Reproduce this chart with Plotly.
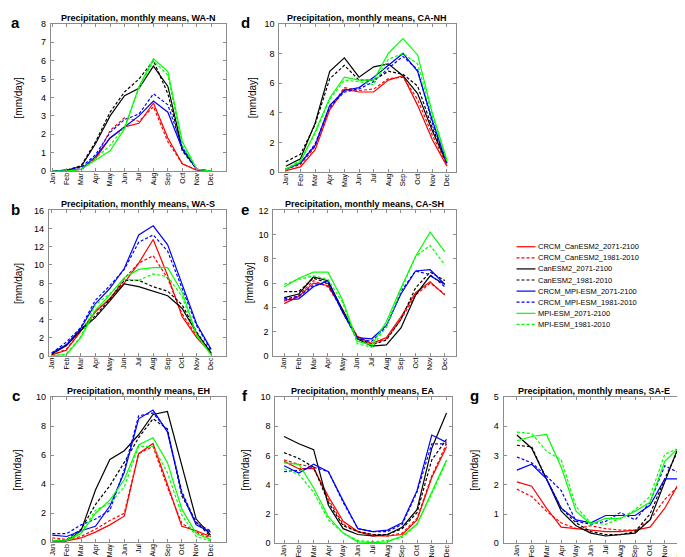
import plotly.graph_objects as go

W, H = 685, 557

MONTHS = ["Jan", "Feb", "Mar", "Apr", "May", "Jun", "Jul", "Aug", "Sep", "Oct", "Nov", "Dec"]

SERIES = ["CRCM_CanESM2_2071-2100", "CRCM_CanESM2_1981-2010",
          "CanESM2_2071-2100", "CanESM2_1981-2010",
          "CRCM_MPI-ESM_2071-2100", "CRCM_MPI-ESM_1981-2010",
          "MPI-ESM_2071-2100", "MPI-ESM_1981-2010"]
COLORS = ["#ff0000", "#ff0000", "#000000", "#000000",
          "#0000ff", "#0000ff", "#00ff00", "#00ff00"]
DASHES = ["solid", "3px,2px", "solid", "3px,2px",
          "solid", "3px,2px", "solid", "3px,2px"]

# values in SERIES order, Jan..Dec
WA_N = [
    [0, 0, 0.1, 0.7, 1.8, 2.4, 2.6, 3.7, 1.8, 0.4, 0.05, 0],
    [0, 0, 0.1, 0.7, 2.2, 2.9, 2.7, 3.5, 1.6, 0.4, 0.05, 0],
    [0, 0.05, 0.25, 1.5, 3.0, 4.1, 4.5, 5.7, 4.6, 1.2, 0.1, 0],
    [0, 0.05, 0.3, 1.6, 3.2, 4.3, 5.0, 6.0, 4.2, 1.1, 0.1, 0],
    [0, 0.05, 0.1, 0.8, 1.8, 2.4, 3.0, 3.8, 3.2, 1.2, 0.1, 0],
    [0, 0.05, 0.2, 0.9, 2.1, 2.8, 3.1, 4.2, 3.6, 1.3, 0.1, 0],
    [0, 0, 0.1, 0.6, 1.1, 2.3, 4.6, 6.1, 5.4, 1.6, 0.1, 0],
    [0, 0, 0.1, 0.7, 1.4, 2.4, 4.5, 6.0, 5.2, 1.4, 0.1, 0],
]
CA_NH = [
    [0.1, 0.35, 1.5, 4.2, 5.6, 5.4, 5.4, 6.2, 6.5, 4.5, 2.2, 0.4],
    [0.2, 0.5, 1.7, 4.3, 5.7, 5.5, 5.6, 6.3, 6.4, 4.9, 2.5, 0.5],
    [0.4, 0.9, 3.3, 6.8, 7.7, 6.4, 7.1, 7.3, 6.5, 5.3, 2.8, 0.6],
    [0.7, 1.2, 3.2, 6.3, 7.2, 6.2, 6.2, 6.8, 6.6, 5.8, 3.0, 0.7],
    [0.2, 0.6, 1.8, 4.5, 5.5, 5.7, 6.4, 7.2, 8.0, 6.8, 3.5, 0.6],
    [0.2, 0.6, 1.9, 4.4, 5.4, 5.6, 6.1, 7.0, 7.8, 6.9, 3.3, 0.6],
    [0.2, 0.7, 2.7, 5.0, 6.4, 6.2, 6.2, 8.0, 9.0, 7.9, 4.0, 0.8],
    [0.2, 0.8, 2.6, 4.9, 6.2, 6.1, 5.9, 7.6, 8.0, 7.3, 3.8, 0.7],
]
WA_S = [
    [0.1, 0.6, 2.7, 4.8, 6.3, 8.0, 10.2, 12.8, 8.8, 4.3, 2.0, 0.3],
    [0.1, 0.7, 2.7, 4.9, 6.2, 8.5, 10.2, 11.0, 8.5, 4.6, 2.2, 0.3],
    [0.2, 1.1, 2.8, 4.2, 6.0, 7.9, 7.6, 7.1, 6.6, 5.2, 2.5, 0.3],
    [0.2, 1.2, 2.9, 4.4, 6.2, 8.3, 8.3, 7.6, 7.1, 5.6, 2.6, 0.4],
    [0.3, 1.2, 3.0, 5.7, 7.4, 9.6, 13.3, 14.3, 12.2, 7.9, 3.5, 0.7],
    [0.3, 1.5, 3.1, 6.1, 7.7, 9.5, 12.5, 13.3, 11.5, 7.3, 3.3, 0.6],
    [0.0, 0.1, 2.0, 5.0, 6.7, 8.6, 9.5, 9.7, 9.7, 7.0, 2.3, 0.1],
    [0.0, 0.2, 2.1, 5.6, 6.8, 8.4, 8.3, 9.0, 8.7, 6.5, 2.2, 0.1],
]
CA_SH = [
    [4.3, 4.9, 6.0, 5.8, 3.8, 1.6, 1.0, 1.5, 3.2, 5.2, 6.1, 5.0],
    [4.5, 5.0, 6.2, 5.7, 3.8, 1.6, 1.0, 1.4, 3.0, 5.0, 6.0, 5.1],
    [4.8, 5.1, 6.5, 6.2, 3.8, 1.4, 0.8, 0.9, 2.3, 5.0, 6.6, 5.9],
    [5.3, 5.3, 6.4, 6.0, 3.7, 1.5, 0.9, 1.3, 3.0, 5.6, 6.9, 6.2],
    [4.6, 4.7, 5.7, 6.2, 3.6, 1.5, 1.4, 2.5, 5.1, 7.0, 7.1, 5.9],
    [4.7, 4.9, 5.8, 6.0, 3.6, 1.4, 1.2, 2.4, 5.3, 7.0, 6.7, 5.7],
    [5.7, 6.4, 6.9, 6.9, 4.6, 1.2, 0.9, 2.8, 5.6, 8.2, 10.2, 8.6],
    [5.9, 6.3, 6.6, 6.3, 4.4, 1.0, 0.7, 2.4, 5.4, 8.2, 9.1, 7.5],
]
EH = [
    [0.1, 0.1, 0.3, 0.7, 1.2, 1.8, 6.1, 6.8, 4.0, 1.1, 0.8, 0.4],
    [0.3, 0.2, 0.4, 0.9, 1.5, 2.0, 6.1, 6.6, 3.8, 1.3, 0.7, 0.3],
    [0.1, 0.1, 0.8, 3.6, 5.7, 6.3, 7.4, 8.8, 9.0, 5.3, 1.6, 0.5],
    [0.1, 0.2, 0.9, 2.6, 3.9, 5.5, 7.2, 8.5, 7.8, 3.2, 1.4, 0.4],
    [0.5, 0.4, 0.8, 1.1, 2.5, 4.8, 8.5, 9.1, 7.6, 3.4, 1.2, 0.7],
    [0.6, 0.6, 1.2, 1.6, 2.2, 5.0, 8.7, 8.9, 7.7, 3.5, 1.3, 0.8],
    [0.1, 0.1, 0.6, 2.0, 2.9, 4.3, 6.7, 7.2, 5.5, 2.3, 0.6, 0.2],
    [0.1, 0.2, 0.7, 2.2, 2.7, 3.8, 6.6, 6.6, 4.8, 1.9, 0.4, 0.1],
]
EA = [
    [5.6, 5.1, 5.1, 3.2, 1.5, 0.8, 0.5, 0.5, 0.6, 1.6, 4.5, 6.6],
    [5.7, 5.4, 5.2, 3.0, 1.3, 0.8, 0.6, 0.5, 0.7, 1.7, 4.6, 6.8],
    [7.3, 6.8, 6.4, 2.6, 1.0, 0.6, 0.5, 0.6, 1.1, 2.3, 6.5, 8.9],
    [6.2, 5.8, 5.2, 2.8, 1.2, 0.8, 0.6, 0.6, 1.0, 2.1, 5.7, 7.1],
    [5.3, 4.8, 5.4, 4.9, 2.9, 1.0, 0.8, 0.9, 1.4, 3.6, 7.4, 6.9],
    [4.9, 5.0, 5.2, 4.9, 2.8, 1.0, 0.8, 0.8, 1.3, 3.5, 6.8, 6.8],
    [5.5, 5.4, 3.8, 1.8, 0.7, 0.1, 0.05, 0.1, 0.5, 1.3, 3.5, 5.7],
    [5.1, 4.7, 3.5, 1.6, 0.7, 0.2, 0.1, 0.2, 0.4, 1.3, 3.4, 5.6],
]
SA_E = [
    [2.1, 1.95, 1.2, 0.55, 0.5, 0.45, 0.4, 0.4, 0.45, 0.55, 1.2, 2.1],
    [1.85, 1.6, 1.1, 0.7, 0.5, 0.6, 0.5, 0.45, 0.45, 0.8, 1.5, 2.0],
    [3.7, 3.25, 2.2, 1.1, 0.6, 0.35, 0.25, 0.3, 0.35, 0.8, 2.1, 3.4],
    [3.35, 3.3, 2.2, 1.2, 0.7, 0.4, 0.3, 0.3, 0.4, 1.0, 2.2, 3.3],
    [2.5, 2.7, 2.2, 1.2, 0.8, 0.7, 0.95, 0.95, 0.95, 1.3, 2.2, 2.2],
    [2.95, 2.75, 2.3, 1.8, 0.75, 0.65, 0.75, 1.05, 0.8, 1.4, 2.65, 2.4],
    [3.5, 3.65, 3.72, 2.6, 1.1, 0.65, 0.85, 0.85, 1.1, 1.4, 2.8, 3.3],
    [3.8, 3.75, 3.15, 2.85, 1.25, 0.7, 0.65, 0.85, 1.15, 1.6, 3.05, 3.25],
]

# panel: letter, region, data, ymax, dtick, xrange, plot-area box in px (x0, x1, y0, y1)
PANELS = [
    ("a", "WA-N", WA_N, 8, 1, [0.9, 13.05], (41, 217, 11, 161), (6, 8)),
    ("d", "CA-NH", CA_NH, 10, 2, [0.55, 12.6], (270, 447, 11, 162), (236, 244)),
    ("b", "WA-S", WA_S, 16, 2, [0.8, 13.05], (39, 217, 201, 349), (6, 8)),
    ("e", "CA-SH", CA_SH, 12, 2, [0.25, 12.75], (264, 447, 201, 349), (236, 240)),
    ("c", "EH", EH, 10, 2, [0.9, 13.1], (41, 217, 391, 539), (6, 8)),
    ("f", "EA", EA, 10, 2, [0.4, 12.35], (266, 443, 391, 540), (236, 236)),
    ("g", "SA-E", SA_E, 5, 1, [0.1, 12.3], (495, 676, 391, 540), (466, 466)),
]

FONT = "Liberation Sans, Arial, sans-serif"
AXC = "#8c8c8c"

fig = go.Figure()
annotations = []
shapes = []
layout_axes = {}

x_vals = list(range(1, 13))

for k, (letter, region, data, ymax, dtick, xr, box, lab) in enumerate(PANELS):
    idx = "" if k == 0 else str(k + 1)
    x0, x1, y0, y1 = box
    xd = [x0 / W, x1 / W]
    yd = [1 - y1 / H, 1 - y0 / H]
    for s in range(8):
        fig.add_trace(go.Scatter(
            x=x_vals, y=data[s], mode="lines", name=SERIES[s], showlegend=False,
            line=dict(color=COLORS[s], width=1.2, dash=DASHES[s]),
            xaxis="x" + idx, yaxis="y" + idx, hoverinfo="skip"))
    layout_axes["xaxis" + idx] = dict(
        domain=xd, anchor="y" + idx, range=xr, tickvals=x_vals, ticktext=MONTHS,
        tickangle=-90, tickfont=dict(size=7, family=FONT, color="#000"),
        ticklabelstandoff=-2,
        showline=True, linecolor=AXC, linewidth=1, mirror="ticks",
        ticks="inside", ticklen=3, tickcolor=AXC, showgrid=False, zeroline=False,
        fixedrange=True)
    layout_axes["yaxis" + idx] = dict(
        domain=yd, anchor="x" + idx, range=[0, ymax], dtick=dtick, tick0=0,
        tickfont=dict(size=9, family=FONT, color="#000"),
        ticklabelstandoff=2,
        showline=True, linecolor=AXC, linewidth=1, mirror="ticks",
        ticks="inside", ticklen=3, tickcolor=AXC, showgrid=False, zeroline=False,
        fixedrange=True)
    # title
    annotations.append(dict(
        text="<b>Precipitation, monthly means, " + region + "</b>",
        x=(x0 + x1) / 2 / W, y=1 - (y0 - 6) / H, xref="paper", yref="paper",
        xanchor="center", yanchor="middle", showarrow=False,
        font=dict(size=9, family=FONT, color="#000")))
    # panel letter
    annotations.append(dict(
        text="<b>" + letter + "</b>", x=lab[0] / W, y=1 - (y0 - 1) / H,
        xref="paper", yref="paper", xanchor="center", yanchor="middle",
        showarrow=False, font=dict(size=15, family=FONT, color="#000")))
    # y-axis title
    annotations.append(dict(
        text="[mm/day]", x=lab[1] / W, y=1 - (y0 + y1) / 2 / H,
        xref="paper", yref="paper", xanchor="center", yanchor="middle",
        textangle=-90, showarrow=False,
        font=dict(size=10, family=FONT, color="#000")))

# legend (drawn in paper space)
LEG_X0, LEG_X1, LEG_TX, LEG_Y0, LEG_DY = 508, 527, 528, 238, 11.3
for s in range(8):
    yy = 1 - (LEG_Y0 + LEG_DY * s) / H
    shapes.append(dict(type="line", xref="paper", yref="paper",
                       x0=LEG_X0 / W, x1=LEG_X1 / W, y0=yy, y1=yy,
                       line=dict(color=COLORS[s], width=1.2, dash=DASHES[s])))
    annotations.append(dict(text=SERIES[s], x=LEG_TX / W, y=yy,
                            xref="paper", yref="paper", xanchor="left",
                            yanchor="middle", showarrow=False,
                            font=dict(size=7.5, family=FONT, color="#000")))

fig.update_layout(
    width=W, height=H, autosize=False,
    margin=dict(l=0, r=0, t=0, b=0),
    paper_bgcolor="white", plot_bgcolor="white",
    showlegend=False, annotations=annotations, shapes=shapes,
    **layout_axes)

fig.write_html("out.html", config={"displayModeBar": False})
